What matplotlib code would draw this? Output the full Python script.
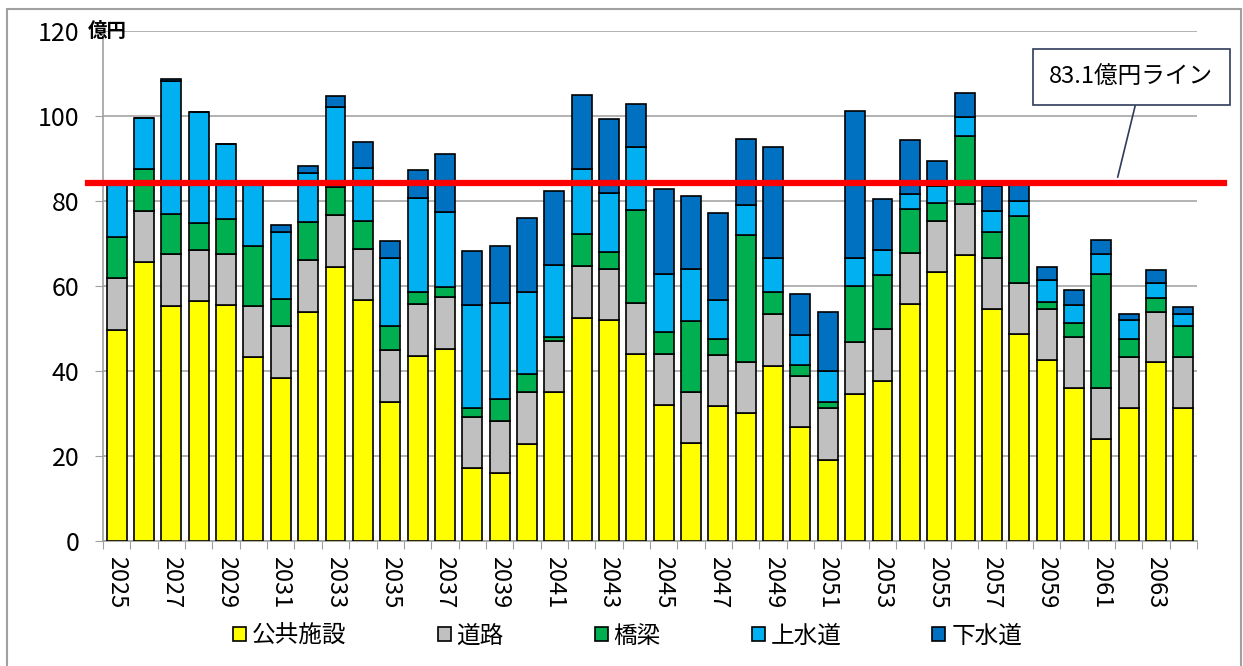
import matplotlib
matplotlib.use("Agg")
import matplotlib.pyplot as plt
from matplotlib.patches import Rectangle
import numpy as np

plt.rcParams['font.family'] = ['Noto Sans CJK JP', 'DejaVu Sans']

# 年度 (2025-2064)
years = list(range(2025, 2065))

# 各分野の更新費用 (億円) - 図から読み取り
koukyou = [49.6, 65.7, 55.3, 56.4, 55.5, 43.3, 38.3, 53.9, 64.5, 56.7,
           32.8, 43.6, 45.2, 17.2, 16.1, 22.8, 35.0, 52.5, 52.0, 44.1,
           31.9, 23.1, 31.7, 30.1, 41.2, 26.9, 19.1, 34.6, 37.6, 55.7,
           63.4, 67.2, 54.6, 48.7, 42.5, 35.9, 23.9, 31.4, 42.0, 31.4]
douro = [12.2, 11.9, 12.2, 12.0, 12.1, 12.1, 12.3, 12.1, 12.1, 12.1,
         12.1, 12.1, 12.1, 11.9, 12.1, 12.2, 12.0, 12.1, 12.0, 12.0,
         12.0, 12.0, 12.1, 12.0, 12.2, 12.0, 12.1, 12.2, 12.2, 12.0,
         12.0, 12.1, 11.9, 12.1, 12.1, 12.1, 12.0, 12.0, 11.9, 12.0]
kyouryou = [9.7, 10.0, 9.4, 6.5, 8.2, 14.0, 6.4, 9.0, 6.7, 6.4,
            5.8, 2.8, 2.4, 2.2, 5.3, 4.4, 0.9, 7.7, 4.0, 21.8,
            5.3, 16.6, 3.8, 29.9, 5.1, 2.5, 1.5, 13.3, 12.8, 10.3,
            4.1, 16.1, 6.3, 15.7, 1.6, 3.3, 26.9, 4.2, 3.3, 7.3]
jousuidou = [12.4, 12.0, 31.4, 26.1, 17.7, 14.6, 15.6, 11.5, 18.8, 12.6,
             16.0, 22.2, 17.7, 24.2, 22.5, 19.1, 17.1, 15.3, 13.9, 14.8,
             13.6, 12.2, 9.2, 7.0, 8.0, 7.1, 7.3, 6.6, 5.8, 3.7,
             4.1, 4.4, 4.8, 3.4, 5.2, 4.2, 4.7, 4.3, 3.6, 2.7]
gesuidou = [0.0, 0.0, 0.4, 0.0, 0.0, 0.0, 1.7, 1.7, 2.5, 6.1,
            3.8, 6.6, 13.6, 12.8, 13.4, 17.5, 17.4, 17.4, 17.4, 10.2,
            20.1, 17.2, 20.3, 15.6, 26.3, 9.6, 13.9, 34.5, 12.1, 12.6,
            5.8, 5.6, 5.9, 4.1, 3.0, 3.6, 3.4, 1.6, 3.0, 1.6]

series = [koukyou, douro, kyouryou, jousuidou, gesuidou]
labels = ["公共施設", "道路", "橋梁", "上水道", "下水道"]
colors = ["#FFFF00", "#C0C0C0", "#00B050", "#00B0F0", "#0070C0"]

line_value = 84.2          # 描画上の基準線の位置
line_label = "83.1億円ライン"

fig = plt.figure(figsize=(12.43, 6.66), dpi=100)
ax = fig.add_axes([0.0829, 0.1877, 0.8801, 0.7658])

x = np.arange(len(years))
bottom = np.zeros(len(years))
for vals, lab, col in zip(series, labels, colors):
    ax.bar(x, vals, width=0.73, bottom=bottom, color=col, edgecolor="black",
           linewidth=1.2, label=lab, zorder=3)
    bottom += np.array(vals)

ax.set_xlim(-0.5, len(years) - 0.5)
ax.set_ylim(0, 120)
ax.set_yticks(range(0, 121, 20))
ax.tick_params(axis='y', labelsize=18, length=6, color="#A0A0A0", pad=11)
ax.yaxis.grid(True, color="#A6A6A6", linewidth=1.2, zorder=0)

# 目盛は棒の境界、ラベルは1年おき
ax.set_xticks(np.arange(-0.5, len(years), 1.0))
ax.set_xticklabels([])
ax.tick_params(axis='x', which='major', length=6, color="#A0A0A0")
ax.set_xticks(x[::2], minor=True)
ax.set_xticklabels([str(y) for y in years[::2]], minor=True, rotation=-90,
                   fontsize=17)
ax.tick_params(axis='x', which='minor', length=0, pad=11)

for side in ["top", "right"]:
    ax.spines[side].set_visible(False)
for side in ["left", "bottom"]:
    ax.spines[side].set_color("#A0A0A0")
    ax.spines[side].set_linewidth(1.2)

# 基準線
ax.axhline(line_value, xmin=-0.014, xmax=1.025, color="#FF0000", linewidth=4.5,
           clip_on=False, zorder=5)

ax.annotate(line_label, xy=(36.6, 85.6), xycoords='data',
            xytext=(0.91, 0.884), textcoords='figure fraction',
            ha='center', va='center', fontsize=17,
            bbox=dict(boxstyle='square,pad=0.7', fc='white', ec='#2E3B5B', lw=1.2),
            arrowprops=dict(arrowstyle='-', color='#2E3B5B', lw=1.2,
                            relpos=(0.55, 0.0), shrinkA=0, shrinkB=0),
            zorder=6)

# 単位
fig.text(88 / 1243, 1 - 31 / 666, "億円", fontsize=14, fontweight='bold',
         ha='left', va='center')

fig.legend(loc='center', bbox_to_anchor=(0.505, 0.045), ncol=5, frameon=False,
           fontsize=17, handlelength=0.55, handleheight=0.55, handletextpad=0.25,
           columnspacing=3.85)

# 外枠
fig.patches.append(Rectangle((7 / 1243, -0.1), (1241 - 7) / 1243, 1.1 - 9 / 666,
                             transform=fig.transFigure, fill=False,
                             edgecolor="#A0A0A0", linewidth=1.5))

fig.savefig("out.png", dpi=100)
